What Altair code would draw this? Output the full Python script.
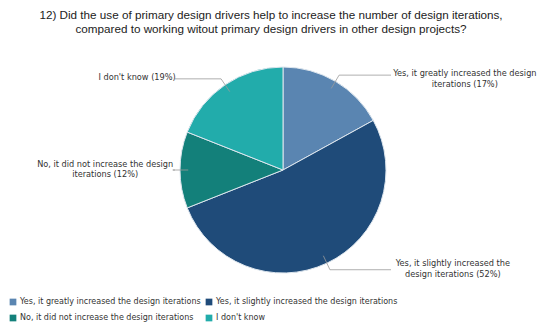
import math
import textwrap
import altair as alt
import pandas as pd

# ---- data ----
categories = [
    "Yes, it greatly increased the design iterations",
    "Yes, it slightly increased the design iterations",
    "No, it did not increase the design iterations",
    "I don't know",
]
percent = [17, 52, 12, 19]
colors = ["#5a85b1", "#1f4b79", "#13807a", "#22acab"]

title_lines = [
    "12) Did the use of primary design drivers help to increase the number of design iterations,",
    "compared to working witout primary design drivers in other design projects?",
]

# ---- layout (view pixel coords) ----
W, H = 526, 277
PAD_TOP = 40
CX, CY, R = 275, 122, 103
FONT = "DejaVu Sans"
LBL_SIZE = 8.2
CHAR_W = 3.99
LINE_H = 10.5

df = pd.DataFrame({"category": categories, "percent": percent, "order": range(len(categories))})

# leader lines and labels derived from slice mid-angles
seg_rows, txt_rows = [], []
cum = 0
total = sum(percent)
for cat, p in zip(categories, percent):
    mid = (cum + p / 2) / total
    cum += p
    a = 2 * math.pi * mid
    sx, sy = CX + 0.92 * R * math.sin(a), CY - 0.92 * R * math.cos(a)
    ex, ey = CX + 1.07 * R * math.sin(a), CY - 1.07 * R * math.cos(a)
    side = 1 if math.sin(a) > 0 else -1
    endx = CX + side * 108
    seg_rows.append({"x": sx, "y": sy, "x2": ex, "y2": ey})
    seg_rows.append({"x": ex, "y": ey, "x2": endx, "y2": ey})
    lines = textwrap.wrap(f"{cat} ({p}%)", width=36)
    w = max(len(l) for l in lines) * CHAR_W
    lx = endx + side * (2 + w / 2)
    if ey < CY - R / 2:
        y0 = ey - 1
    else:
        y0 = ey - (len(lines) - 1) * LINE_H / 2
    for i, l in enumerate(lines):
        txt_rows.append({"x": lx, "y": y0 + i * LINE_H, "text": l})

segs = pd.DataFrame(seg_rows)
txts = pd.DataFrame(txt_rows)

pie = alt.Chart(df).mark_arc(
    outerRadius=R, stroke="#dde6ee", strokeWidth=1
).encode(
    theta=alt.Theta("percent:Q", stack=True),
    order=alt.Order("order:Q"),
    x=alt.value(CX),
    y=alt.value(CY),
    color=alt.Color(
        "category:N",
        scale=alt.Scale(domain=categories, range=colors),
        sort=categories,
        legend=alt.Legend(
            title=None,
            orient="none",
            direction="horizontal",
            legendX=1,
            legendY=250,
            columns=2,
            gridAlign="none",
            columnPadding=4,
            rowPadding=8,
            symbolType="square",
            symbolSize=45,
            symbolStrokeWidth=0,
            symbolOffset=0,
            labelFont=FONT,
            labelFontSize=8,
            labelColor="#333333",
            labelLimit=400,
            labelOffset=3,
        ),
    ),
)

leaders = alt.Chart(segs).mark_rule(color="#9a9a9a", strokeWidth=0.8).encode(
    x=alt.X("x:Q", scale=None),
    y=alt.Y("y:Q", scale=None),
    x2="x2:Q",
    y2="y2:Q",
)

labels = alt.Chart(txts).mark_text(
    font=FONT, fontSize=LBL_SIZE, color="#333333", align="center", baseline="middle"
).encode(
    x=alt.X("x:Q", scale=None),
    y=alt.Y("y:Q", scale=None),
    text="text:N",
)

chart = alt.layer(pie, leaders, labels).properties(
    width=W,
    height=H,
    padding={"left": 0, "top": PAD_TOP, "right": 6, "bottom": 0},
    autosize=alt.AutoSizeParams(type="none"),
    title=alt.TitleParams(
        text=title_lines,
        font="Liberation Sans",
        fontSize=11.7,
        fontWeight="normal",
        color="#222222",
        anchor="middle",
        lineHeight=14,
        offset=12,
    ),
).configure_view(stroke=None)

chart.save("out.html", embed_options={"renderer": "svg", "actions": False})
